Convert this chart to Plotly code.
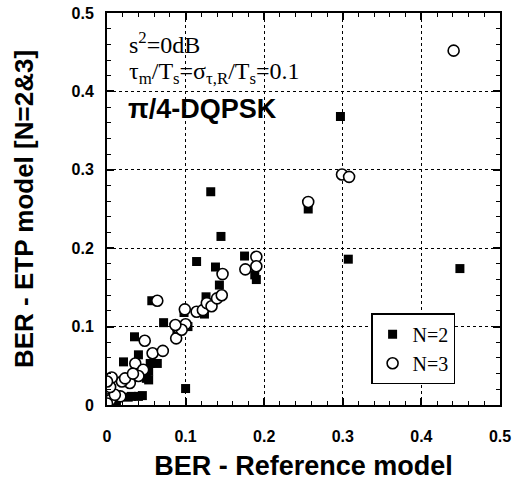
import plotly.graph_objects as go

# N=2 (filled squares)
n2_x = [0.132, 0.145, 0.114, 0.175, 0.138, 0.188, 0.143, 0.126, 0.124, 0.098,
        0.057, 0.072, 0.089, 0.103, 0.035, 0.040, 0.064, 0.021, 0.053, 0.053,
        0.100, 0.040, 0.031, 0.012, 0.256, 0.307, 0.449, 0.297, 0.190, 0.055,
        0.050, 0.027, 0.045, 0.008, 0.002]
n2_y = [0.272, 0.215, 0.183, 0.190, 0.176, 0.166, 0.153, 0.138, 0.116, 0.118,
        0.133, 0.105, 0.094, 0.100, 0.087, 0.064, 0.053, 0.055, 0.032, 0.043,
        0.021, 0.011, 0.011, 0.002, 0.250, 0.186, 0.174, 0.368, 0.160, 0.053,
        0.034, 0.010, 0.012, 0.006, 0.001]

# N=3 (open circles)
n3_x = [0.064, 0.048, 0.058, 0.071, 0.036, 0.046, 0.040, 0.029, 0.019, 0.006,
        0.000, 0.017, 0.004, 0.000, 0.088, 0.091, 0.100, 0.099, 0.114, 0.122,
        0.127, 0.133, 0.140, 0.146, 0.147, 0.176, 0.190, 0.190, 0.256, 0.299,
        0.308, 0.441, 0.023, 0.033, 0.010, 0.095, 0.087, 0.004, 0.000]
n3_y = [0.133, 0.082, 0.066, 0.069, 0.053, 0.045, 0.037, 0.028, 0.030, 0.035,
        0.021, 0.011, 0.006, 0.002, 0.085, 0.098, 0.103, 0.122, 0.119, 0.121,
        0.130, 0.126, 0.136, 0.140, 0.167, 0.173, 0.189, 0.177, 0.259, 0.294,
        0.291, 0.452, 0.034, 0.040, 0.013, 0.096, 0.102, 0.023, 0.030]

major_ticks = [0, 0.1, 0.2, 0.3, 0.4, 0.5]
tick_labels = ["0", "0.1", "0.2", "0.3", "0.4", "0.5"]

fig = go.Figure()
fig.add_trace(go.Scatter(
    x=n2_x, y=n2_y, mode="markers", name="N=2",
    marker=dict(symbol="square", size=9, color="black", line=dict(width=0)),
))
fig.add_trace(go.Scatter(
    x=n3_x, y=n3_y, mode="markers", name="N=3",
    marker=dict(symbol="circle", size=11, color="white", line=dict(width=1.6, color="black")),
))

axis_common = dict(
    range=[0, 0.5], tickmode="array", tickvals=major_ticks, ticktext=tick_labels,
    showline=True, linecolor="black", linewidth=2, mirror="ticks",
    ticks="inside", ticklen=7, tickwidth=1.5, tickcolor="black",
    showgrid=True, gridcolor="black", gridwidth=1, griddash="dot",
    zeroline=False, automargin=False,
    minor=dict(tickmode="linear", tick0=0, dtick=0.02, ticks="inside", ticklen=4,
               tickwidth=1, tickcolor="black", showgrid=False),
    tickfont=dict(family="Liberation Sans", size=16, color="black", weight="bold"),
)

fig.update_xaxes(**axis_common,
                 title=dict(text="<b>BER - Reference model</b>",
                            font=dict(family="Liberation Sans", size=27, color="black"),
                            standoff=22),
                 ticklabelstandoff=16)
fig.update_yaxes(**axis_common,
                 title=dict(text="<b>BER - ETP model [N=2&3]</b>",
                            font=dict(family="Liberation Sans", size=26, color="black"),
                            standoff=30),
                 ticklabelstandoff=8)

fig.add_annotation(x=0.026, y=0.462, xref="x", yref="y", xanchor="left", yanchor="middle",
                   text="s<sup>2</sup>=0dB", showarrow=False,
                   font=dict(family="Liberation Serif", size=24, color="black"))
fig.add_annotation(x=0.026, y=0.424, xref="x", yref="y", xanchor="left", yanchor="middle",
                   text="τ<sub>m</sub>/T<sub>s</sub>=σ<sub>τ,R</sub>/T<sub>s</sub>=0.1", showarrow=False,
                   font=dict(family="Liberation Serif", size=24, color="black"))
fig.add_annotation(x=0.024, y=0.377, xref="x", yref="y", xanchor="left", yanchor="middle",
                   text="<b>π/4-DQPSK</b>", showarrow=False,
                   font=dict(family="Liberation Sans", size=27, color="black"))

fig.update_layout(
    width=514, height=481,
    margin=dict(l=107, r=14, t=13, b=76),
    paper_bgcolor="white", plot_bgcolor="white",
    showlegend=True,
    legend=dict(x=0.672, y=0.234, xanchor="left", yanchor="top",
                bgcolor="white", bordercolor="black", borderwidth=1.5,
                font=dict(family="Liberation Serif", size=20, color="black"),
                itemwidth=30, tracegroupgap=0),
)

fig.write_html("out.html")
